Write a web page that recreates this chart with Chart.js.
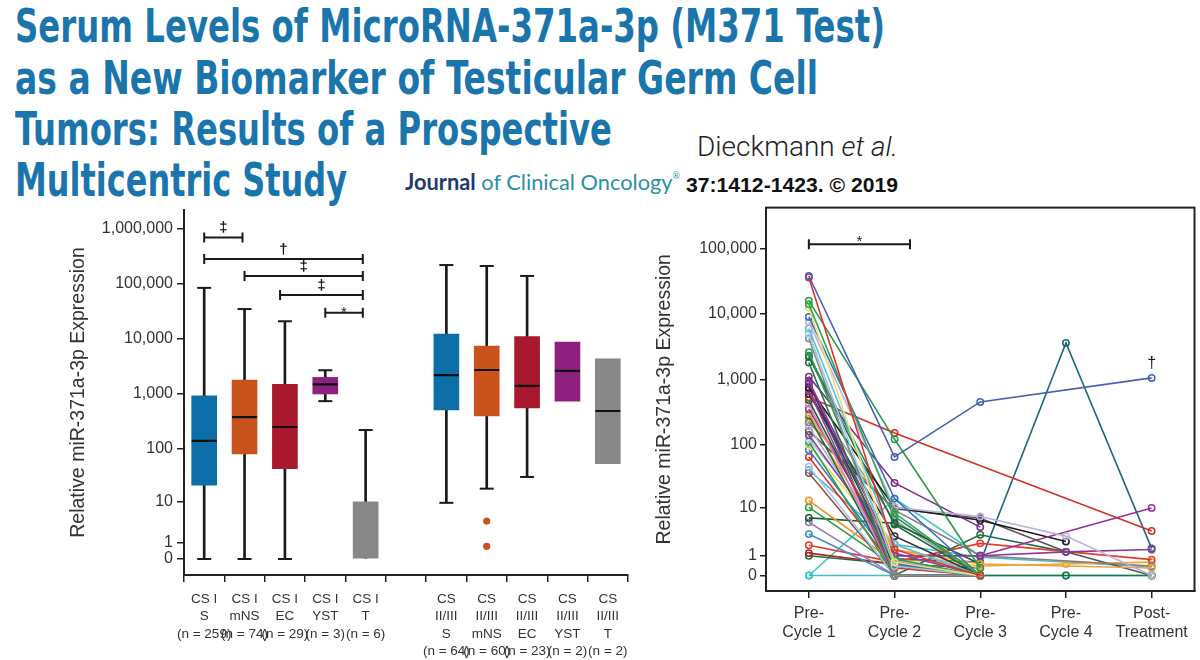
<!DOCTYPE html>
<html>
<head>
<meta charset="utf-8">
<script src="https://cdn.jsdelivr.net/npm/chart.js@4.4.0/dist/chart.umd.min.js"></script>
<style>
html,body{margin:0;padding:0;background:#fff;}
#page{position:relative;width:1200px;height:660px;overflow:hidden;background:#fff;}
.fit{position:absolute;white-space:nowrap;transform-origin:0 0;display:inline-block;}
.tl{font-family:'Liberation Sans Narrow','DejaVu Sans Condensed','Roboto Condensed','Liberation Sans',sans-serif;font-stretch:condensed;font-weight:bold;font-size:47px;line-height:46px;color:#1b75ad;}
.jco{font-family:Lato,'Open Sans',sans-serif;font-size:22px;line-height:22px;color:#2b8fa5;}
.jco b{color:#1e3a6e;font-weight:700;}
.jco sup{font-size:9px;vertical-align:top;line-height:9px;}
.auth{font-family:Roboto,'Open Sans',sans-serif;font-weight:300;font-size:28px;line-height:29px;color:#222;}
.ref{font-family:'Liberation Sans',Arial,sans-serif;font-weight:bold;font-size:20px;line-height:20px;color:#111;}
canvas{position:absolute;}
</style>
</head>
<body>
<div id="page">
  <div class="fit tl" style="left:15px;top:3px" data-w="870">Serum Levels of MicroRNA-371a-3p (M371 Test)</div>
  <div class="fit tl" style="left:15px;top:55px" data-w="803">as a New Biomarker of Testicular Germ Cell</div>
  <div class="fit tl" style="left:15px;top:106px" data-w="597">Tumors: Results of a Prospective</div>
  <div class="fit tl" style="left:15px;top:157px" data-w="332">Multicentric Study</div>
  <div class="fit auth" style="left:697px;top:132px" data-w="201">Dieckmann <i>et al.</i></div>
  <div class="fit jco" style="left:405px;top:171px" data-w="275"><b>Journal</b> of Clinical Oncology<sup>®</sup></div>
  <div class="fit ref" style="left:686px;top:175px" data-w="212">37:1412-1423. © 2019</div>
  <canvas id="left" width="650" height="465" style="left:0px;top:195px;width:650px;height:465px"></canvas>
  <canvas id="right" width="560" height="465" style="left:640px;top:195px;width:560px;height:465px"></canvas>
</div>
<script>
// ---------- DATA ----------
// Left panel: box plots by stage/histology
const groupKeys = ['CS I S','CS I mNS','CS I EC','CS I YST','CS I T','gap','CS II/III S','CS II/III mNS','CS II/III EC','CS II/III YST','CS II/III T'];
const groupLabels = [
  ['CS I','S','(n = 259)'], ['CS I','mNS','(n = 74)'], ['CS I','EC','(n = 29)'], ['CS I','YST','(n = 3)'], ['CS I','T','(n = 6)'],
  '',
  ['CS','II/III','S','(n = 64)'], ['CS','II/III','mNS','(n = 60)'], ['CS','II/III','EC','(n = 23)'], ['CS','II/III','YST','(n = 2)'], ['CS','II/III','T','(n = 2)']
];
const boxColors = ['#0d6ea8','#c8531d','#a8192e','#8e207f','#878787',null,'#0d6ea8','#c8531d','#a8192e','#8e207f','#878787'];
const q1Values     = [21, 80, 43, 1000, 0, null, 510, 400, 555, 740, 53];
const q3Values     = [920, 1780, 1500, 2000, 10, null, 12300, 7400, 11000, 8800, 4350];
const medianValues = [140, 380, 250, 1500, null, null, 2200, 2730, 1400, 2620, 490];
const whiskerLow   = [0, 0, 0, 740, null, null, 9.5, 18, 30, null, null];
const whiskerHigh  = [85000, 35000, 21000, 2700, 220, null, 221000, 212000, 140000, null, null];
const outlierGroups = ['CS II/III mNS','CS II/III mNS'];
const outlierValues = [3.9, 0.7];
const leftTickValues = [0, 1, 10, 100, 1000, 10000, 100000, 1000000];
const leftTickLabels = ['0','1','10','100','1,000','10,000','100,000','1,000,000'];
const leftBracketFrom  = [0, 0, 1, 1.88, 3];
const leftBracketTo    = [0.95, 3.93, 3.93, 3.93, 3.93];
const leftBracketLevel = [700000, 285000, 140000, 63000, 30000];
const leftBracketSym   = ['‡','†','‡','‡','*'];

// Right panel: individual patients during chemotherapy
const visits = ['Pre-Cycle 1','Pre-Cycle 2','Pre-Cycle 3','Pre-Cycle 4','Post-Treatment'];
const visitLabels = [['Pre-','Cycle 1'],['Pre-','Cycle 2'],['Pre-','Cycle 3'],['Pre-','Cycle 4'],['Post-','Treatment']];
const rightTickValues = [0, 1, 10, 100, 1000, 10000, 100000];
const rightTickLabels = ['0','1','10','100','1,000','10,000','100,000'];
const patients = [
  [38000, 64, 450, null, 1050],
  [36000, 1.5, 0, null, null],
  [16000, 120, 0.3, null, null],
  [14000, 8, 0, null, null],
  [12500, 0.6, 0, null, null],
  [9000, 14, 0, null, null],
  [7500, 10, 7, 3, 0],
  [6000, 2, 0, null, null],
  [5000, 0.4, 0, null, null],
  [4200, 0, 0, null, null],
  [2600, 0.8, 0, null, null],
  [2200, 5, 0, null, null],
  [1800, 0, 0, null, null],
  [1100, 25, 4.5, null, null],
  [950, 1, 1.0, null, 9.8],
  [850, 0.6, 0, null, null],
  [750, 10, 6, 2.3, null],
  [680, 0, 0, null, null],
  [600, 3, 0, null, null],
  [530, 150, null, null, 3.8],
  [480, 0.4, 0, null, null],
  [420, 0, 0, null, null],
  [350, 1, 1, 1.3, 1.5],
  [300, 1.5, 0.5, null, 0.3],
  [280, 0, 0, 0, 0],
  [220, 9, 1, null, 0.4],
  [190, 0.7, 0, null, null],
  [160, 9.5, 6.5, 1.3, 0],
  [140, 1.2, 0, null, null],
  [120, 2, 0, null, null],
  [110, 0, 0, null, null],
  [97, 1.5, 0.3, null, null],
  [82, 0.5, 0, null, null],
  [64, 0.3, 0, null, null],
  [45, 0, 0, null, null],
  [36, 0, 0, null, null],
  [13, 0.6, 0, null, null],
  [10, 0.4, 0, null, null],
  [6.6, 5.3, 0.5, null, null],
  [5.5, 0, 0, null, null],
  [3.3, 0, 0, null, null],
  [1.9, 0.6, 2.1, null, 0.75],
  [1.2, 0.5, 0, null, null],
  [1.0, 0.5, 0.3, null, null],
  [0, 14, 1, null, null],
  [0, 0, 0, 0, 0],
  [700, 0.8, 0.6, 3600, 1.6],
  [900, 0, 3.2, 1.3, null],
  [2300, 7, 0, null, null],
  [600, 6, 0, null, null],
  [250, 0.8, 0.4, 0.5, 0.6],
  [40, 2, 0.9, null, 0.35]
];
const patientColors = [
  '#4560b0','#e3322b','#2a9a48','#2fa84f','#efe36b','#4169b8','#bdb0dc','#5dbfd9','#9dc7e3','#8c8c8c',
  '#2e9b57','#1e6e3c','#237a45','#7b2f8e','#98309a','#5c2b7d','#1c1c1c','#b03590','#333333','#d42f2a',
  '#17663a','#e47fb9','#8a3a9c','#f0a040','#1d7340','#7f7f7f','#b8a6d9','#555555','#8e44a0','#a6cbe6',
  '#2ca24d','#e8dc60','#3a7cc2','#e0312b','#9fc6e7','#8c564b','#f28c28','#2ca04c','#1b5e33','#8f7bb8',
  '#3b8fc4','#e33b2e','#b2202a','#1f6b3a','#3ec4c4','#3cc0c8','#1e6a78','#1f7040','#2b8c6a','#999999',
  '#f5a623','#5ab4c8'
];
const rightBracketFrom = [0], rightBracketTo = [1.18], rightBracketLevel = [116000], rightBracketSym = ['*'];
const daggerVisit = 4, daggerValue = 1050;

// ---------- HELPERS ----------
const T = v => Math.log10(v + 1);
document.querySelectorAll('.fit').forEach(el => {
  const w = el.getBoundingClientRect().width;
  const target = +el.dataset.w;
  if (w > 0) el.style.transform = 'scaleX(' + (target / w) + ')';
});
const AX = '#222';
const TXT = '#333';
const FONT = "'Liberation Sans', Arial, Helvetica, sans-serif";

function bracketPlugin(id, from, to, level, sym, starShift, extra) {
  return {
    id,
    afterDatasetsDraw(chart) {
      const {ctx, scales: {x, y}} = chart;
      ctx.save();
      ctx.strokeStyle = '#1a1a1a';
      ctx.fillStyle = '#1a1a1a';
      ctx.lineWidth = 2;
      for (let i = 0; i < from.length; i++) {
        const x1 = x.getPixelForValue(from[i]);
        const x2 = x.getPixelForValue(to[i]);
        const yy = y.getPixelForValue(T(level[i]));
        ctx.beginPath();
        ctx.moveTo(x1, yy); ctx.lineTo(x2, yy);
        ctx.moveTo(x1, yy - 5); ctx.lineTo(x1, yy + 5);
        ctx.moveTo(x2, yy - 5); ctx.lineTo(x2, yy + 5);
        ctx.stroke();
        ctx.textAlign = 'center';
        ctx.textBaseline = 'alphabetic';
        if (sym[i] === '*') {
          ctx.font = '15px ' + FONT;
          ctx.fillText('*', (x1 + x2) / 2, yy + starShift);
        } else {
          ctx.font = 'bold 15px ' + FONT;
          ctx.fillText(sym[i], (x1 + x2) / 2, yy - 5);
        }
      }
      if (extra) extra(chart);
      ctx.restore();
    }
  };
}

// ---------- LEFT CHART ----------
const whiskerData = groupKeys.map((k, i) => (whiskerLow[i] == null && whiskerHigh[i] == null) ? null :
  [T(whiskerLow[i] != null ? whiskerLow[i] : q1Values[i]), T(whiskerHigh[i] != null ? whiskerHigh[i] : q3Values[i])]);
const boxData = groupKeys.map((k, i) => q1Values[i] == null ? null : [T(q1Values[i]), T(q3Values[i])]);
const capData = [];
groupKeys.forEach((k, i) => {
  if (whiskerLow[i] != null) capData.push({x: k, y: T(whiskerLow[i])});
  if (whiskerHigh[i] != null) capData.push({x: k, y: T(whiskerHigh[i])});
});
const medianData = [];
groupKeys.forEach((k, i) => { if (medianValues[i] != null) medianData.push({x: k, y: T(medianValues[i])}); });
const outlierData = outlierGroups.map((k, i) => ({x: k, y: T(outlierValues[i])}));

new Chart(document.getElementById('left'), {
  type: 'bar',
  data: {
    labels: groupKeys,
    datasets: [
      {type: 'line', data: medianData, showLine: false, pointStyle: 'line', pointRadius: 12.5, pointBorderWidth: 2.2, borderColor: '#111', order: 0},
      {type: 'line', data: outlierData, showLine: false, pointStyle: 'circle', pointRadius: 3.6, pointBorderWidth: 0, backgroundColor: '#c8531d', borderColor: '#c8531d', order: 0},
      {type: 'bar', data: boxData, backgroundColor: boxColors, borderWidth: 0, barThickness: 25, grouped: false, order: 1},
      {type: 'line', data: capData, showLine: false, pointStyle: 'line', pointRadius: 7, pointBorderWidth: 2, borderColor: '#1a1a1a', order: 2},
      {type: 'bar', data: whiskerData, backgroundColor: '#1a1a1a', borderWidth: 0, barThickness: 2, grouped: false, order: 3}
    ]
  },
  options: {
    responsive: false, animation: false, devicePixelRatio: 1,
    events: [],
    layout: {padding: {left: 0, right: 22, top: 15, bottom: 0}},
    plugins: {legend: {display: false}, tooltip: {enabled: false}},
    scales: {
      x: {
        type: 'category', offset: true,
        grid: {display: true, drawOnChartArea: false, drawTicks: true, tickLength: 7, color: AX, lineWidth: 1.5},
        border: {display: true, color: AX, width: 2},
        ticks: {autoSkip: false, maxRotation: 0, minRotation: 0, padding: 9, color: TXT,
          font: {family: FONT, size: 13.5, lineHeight: 1.27},
          callback: (v, i) => groupLabels[i]},
        afterFit: s => { s.height = 85; }
      },
      y: {
        type: 'linear', min: -0.291, max: 6.345,
        afterBuildTicks: s => { s.ticks = leftTickValues.map(v => ({value: T(v)})); },
        grid: {display: true, drawOnChartArea: false, drawTicks: true, tickLength: 7, color: AX, lineWidth: 1.5},
        border: {display: true, color: AX, width: 2},
        ticks: {autoSkip: false, padding: 4, color: TXT, font: {family: FONT, size: 16},
          callback: (v, i) => leftTickLabels[i]},
        title: {display: true, text: 'Relative miR-371a-3p Expression', color: TXT,
          font: {family: FONT, size: 19.5, lineHeight: 1.2}, padding: {top: 67, bottom: 0}},
        afterFit: s => { s.width = 184; }
      }
    }
  },
  plugins: [bracketPlugin('leftBrackets', leftBracketFrom, leftBracketTo, leftBracketLevel, leftBracketSym, 4)]
});

// ---------- RIGHT CHART ----------
const patientDatasets = patients.map((vals, p) => ({
  type: 'line',
  data: vals.map(v => v == null ? null : T(v)),
  borderColor: patientColors[p],
  pointBorderColor: patientColors[p],
  pointBackgroundColor: 'rgba(255,255,255,0)',
  borderWidth: 1.6,
  pointRadius: 3.2,
  pointBorderWidth: 1.5,
  spanGaps: true,
  tension: 0
}));

const framePlugin = {
  id: 'frame',
  afterDraw(chart) {
    const {ctx, chartArea: a} = chart;
    ctx.save();
    ctx.strokeStyle = AX; ctx.lineWidth = 2;
    ctx.strokeRect(a.left, a.top, a.right - a.left, a.bottom - a.top);
    ctx.restore();
  }
};

new Chart(document.getElementById('right'), {
  type: 'line',
  data: {labels: visits, datasets: patientDatasets},
  options: {
    responsive: false, animation: false, devicePixelRatio: 1,
    events: [],
    layout: {padding: {left: 0, right: 5, top: 12, bottom: 0}},
    plugins: {legend: {display: false}, tooltip: {enabled: false}},
    scales: {
      x: {
        type: 'category', offset: true,
        grid: {display: true, drawOnChartArea: false, drawTicks: true, tickLength: 7, color: AX, lineWidth: 1.5},
        border: {display: true, color: AX, width: 2},
        ticks: {autoSkip: false, maxRotation: 0, minRotation: 0, padding: 6, color: TXT,
          font: {family: FONT, size: 16, lineHeight: 1.2},
          callback: (v, i) => visitLabels[i]},
        afterFit: s => { s.height = 69; }
      },
      y: {
        type: 'linear', min: -0.237, max: 5.626,
        afterBuildTicks: s => { s.ticks = rightTickValues.map(v => ({value: T(v)})); },
        grid: {display: true, drawOnChartArea: false, drawTicks: true, tickLength: 6, color: AX, lineWidth: 1.5},
        border: {display: true, color: AX, width: 2},
        ticks: {autoSkip: false, padding: 3, color: TXT, font: {family: FONT, size: 16},
          callback: (v, i) => rightTickLabels[i]},
        title: {display: true, text: 'Relative miR-371a-3p Expression', color: TXT,
          font: {family: FONT, size: 19.5, lineHeight: 1.2}, padding: {top: 13, bottom: 0}},
        afterFit: s => { s.width = 126; }
      }
    }
  },
  plugins: [framePlugin, bracketPlugin('rightBrackets', rightBracketFrom, rightBracketTo, rightBracketLevel, rightBracketSym, 2,
    chart => {
      const {ctx, scales: {x, y}} = chart;
      ctx.font = '16px ' + FONT;
      ctx.textAlign = 'center';
      ctx.textBaseline = 'alphabetic';
      ctx.fillText('†', x.getPixelForValue(daggerVisit), y.getPixelForValue(T(daggerValue)) - 10);
    })]
});
</script>
</body>
</html>
